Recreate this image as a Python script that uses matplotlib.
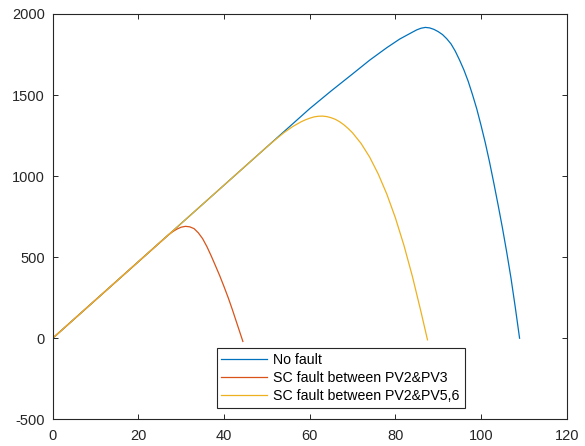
import matplotlib
matplotlib.use('Agg')
import matplotlib.pyplot as plt

plt.rcParams['font.family'] = ['Liberation Sans', 'DejaVu Sans']
plt.rcParams['axes.unicode_minus'] = False

# P-V curves of the array (voltage in V, power in W)
v_nofault = [0, 10, 20, 30, 40, 50, 60, 65, 70, 74, 78, 81, 84, 85, 86, 87,
             88, 89, 90, 91, 92, 93, 94, 95, 96, 97, 98, 99, 100, 101, 102,
             103, 104, 105, 106, 107, 108, 109]
p_nofault = [0, 236, 472, 708, 944, 1180, 1416, 1525, 1630, 1715, 1792, 1845,
             1888, 1902, 1912, 1917, 1914, 1905, 1891, 1873, 1847, 1815, 1770,
             1715, 1655, 1585, 1503, 1415, 1313, 1205, 1085, 955, 820, 680,
             530, 370, 190, 0]

v_pv2_pv3 = [0, 10, 20, 25, 27, 28, 29, 30, 31, 32, 33, 34, 35, 36, 37, 38,
             39, 40, 41, 42, 43, 44.4]
p_pv2_pv3 = [0, 236, 472, 590, 637, 657, 673, 685, 690, 687, 676, 650, 614,
             565, 508, 447, 385, 318, 248, 172, 92, -20]

v_pv2_pv56 = [0, 10, 20, 30, 40, 50, 52, 54, 56, 57, 58, 59, 60, 61, 62, 63,
              64, 65, 66, 67, 68, 69, 70, 72, 74, 76, 78, 80, 82, 84, 86, 87.5]
p_pv2_pv56 = [0, 236, 472, 708, 944, 1180, 1225, 1268, 1305, 1320, 1335, 1347,
              1357, 1365, 1369, 1370, 1367, 1360, 1350, 1335, 1316, 1293, 1267,
              1201, 1117, 1013, 889, 743, 573, 379, 161, -10]

labels = ['No fault', 'SC fault between PV2&PV3', 'SC fault between PV2&PV5,6']
colors = ['#0072BD', '#D95319', '#EDB120']

xticks = [0, 20, 40, 60, 80, 100, 120]
yticks = [-500, 0, 500, 1000, 1500, 2000]

fig = plt.figure(figsize=(5.85, 4.46), dpi=100)
ax = fig.add_axes([0.0901, 0.0599, 0.8786, 0.9088])

ax.plot(v_nofault, p_nofault, color=colors[0], lw=0.9, label=labels[0])
ax.plot(v_pv2_pv3, p_pv2_pv3, color=colors[1], lw=0.9, label=labels[1])
ax.plot(v_pv2_pv56, p_pv2_pv56, color=colors[2], lw=0.9, label=labels[2])

ax.set_xlim(0, 120)
ax.set_ylim(-500, 2000)
ax.set_xticks(xticks)
ax.set_yticks(yticks)

grey = '#262626'
for s in ax.spines.values():
    s.set_color(grey)
    s.set_linewidth(0.8)
ax.tick_params(direction='in', length=3.6, width=0.7, colors=grey,
               labelsize=10.5, top=True, right=True)
ax.tick_params(axis='y', pad=5.5)
ax.tick_params(axis='x', pad=7)

leg = ax.legend(loc='lower left', bbox_to_anchor=(0.3187, 0.0271),
                borderaxespad=0, fontsize=10.2, handlelength=3.24,
                handletextpad=0.43, borderpad=0.35, labelspacing=0.3,
                fancybox=False, framealpha=1)
leg.get_frame().set_edgecolor(grey)
leg.get_frame().set_linewidth(0.8)

fig.savefig('out.png', dpi=100)
